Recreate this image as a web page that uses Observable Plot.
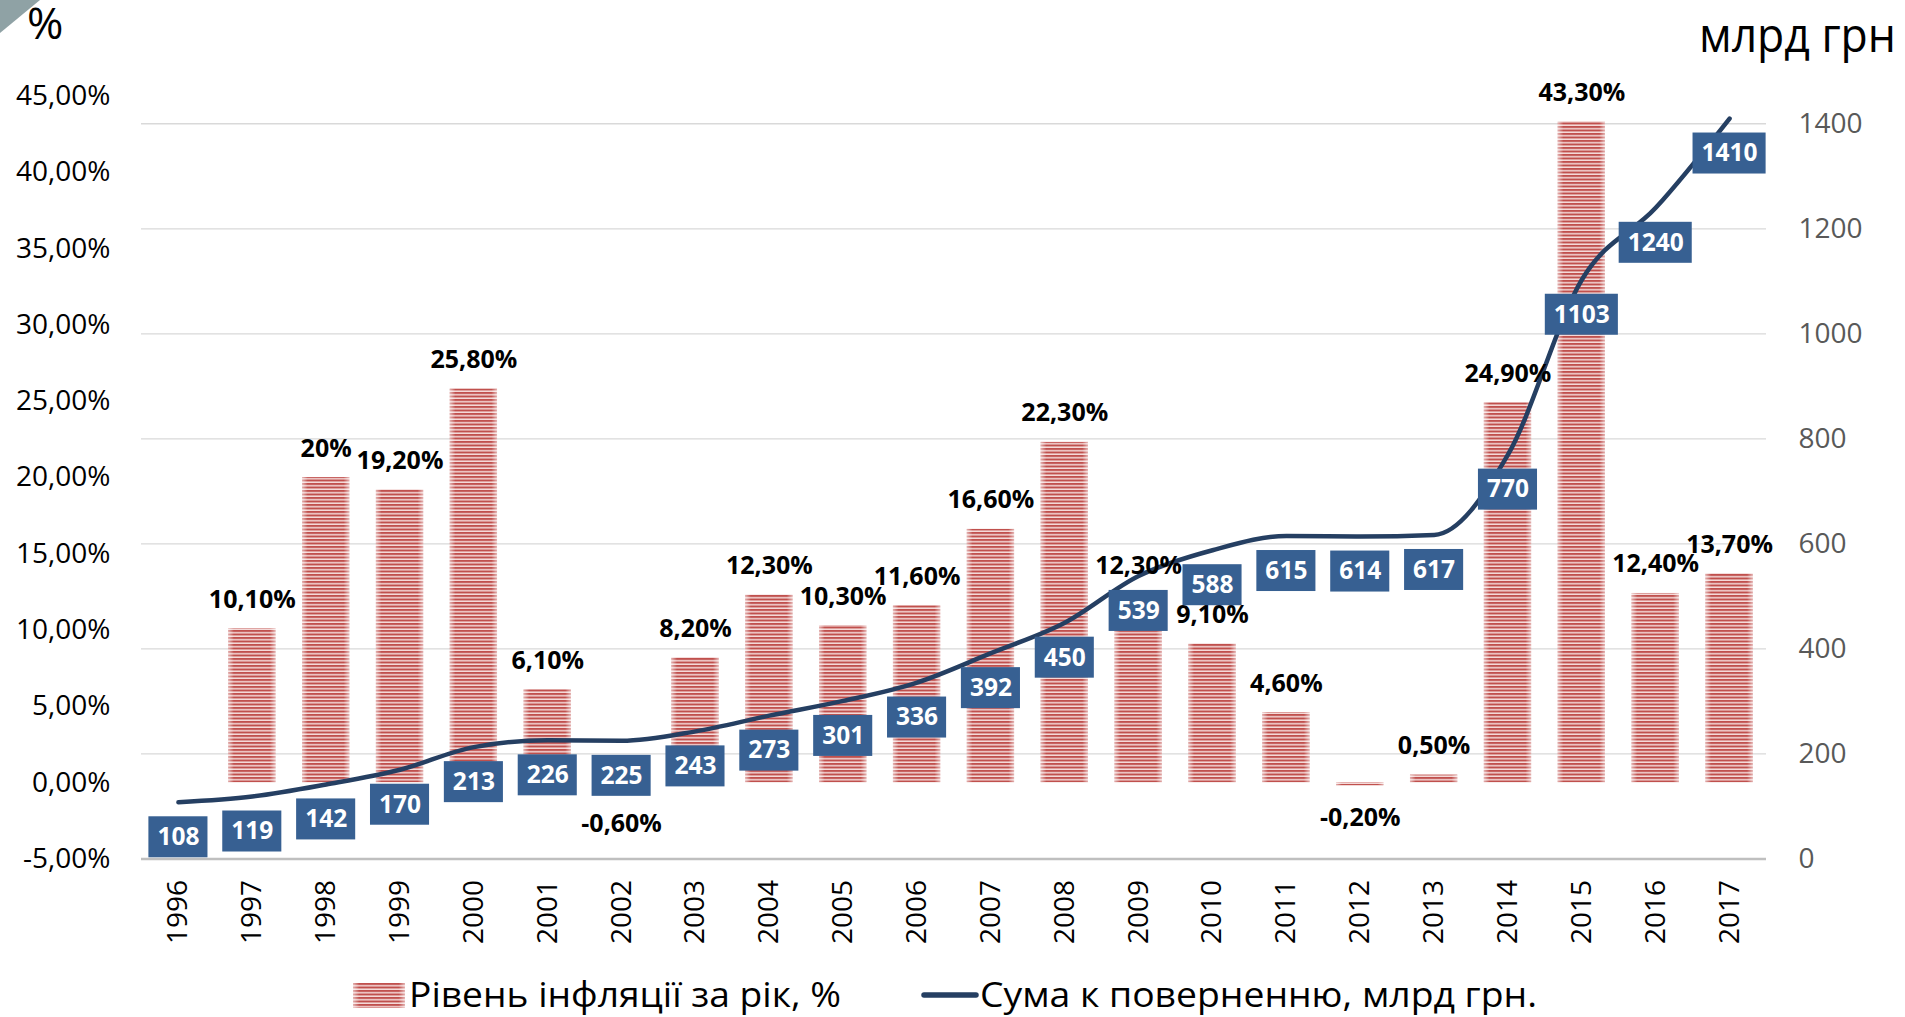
<!DOCTYPE html>
<html><head><meta charset="utf-8">
<script src="https://cdn.jsdelivr.net/npm/d3@7"></script>
<script src="https://cdn.jsdelivr.net/npm/@observablehq/plot@0.6"></script>
<style>
html,body{margin:0;padding:0;background:#fff;width:1905px;height:1017px;overflow:hidden;font-family:"Open Sans",sans-serif;}
#header{position:relative;height:70px;}
#legend{position:relative;height:45px;}
.fit{position:absolute;white-space:nowrap;line-height:1.2;transform-origin:0 0;color:#000;}
#chart svg{display:block;}
</style></head><body>
<div id="header">
  <svg width="45" height="36" style="position:absolute;left:0;top:0"><polygon points="0,0 40,0 0,33" fill="#8FA2A5"/></svg>
  <div class="fit" style="left:27px;top:0px;font-size:44px;line-height:1;">%</div>
  <div class="fit" data-w="197" style="left:1699px;top:5px;font-size:48px;">млрд грн</div>
</div>
<div id="chart"></div>
<div id="legend">
  <svg width="52" height="25" style="position:absolute;left:353px;top:11px">
    <defs>
      <pattern id="stripesL" patternUnits="userSpaceOnUse" width="10" height="3.5">
        <rect width="10" height="3.5" fill="#F5DCDB"/><rect width="10" height="2" fill="#C0504D"/>
      </pattern>
      <linearGradient id="edgefadeL"><stop offset="0" stop-color="#fff" stop-opacity="0.55"/><stop offset="0.12" stop-color="#fff" stop-opacity="0"/><stop offset="0.88" stop-color="#fff" stop-opacity="0"/><stop offset="1" stop-color="#fff" stop-opacity="0.55"/></linearGradient>
    </defs>
    <rect width="52" height="25" fill="url(#stripesL)"/><rect width="52" height="25" fill="url(#edgefadeL)"/>
  </svg>
  <div class="fit" data-w="432" style="left:409px;top:1.5px;font-size:34px;">Рівень інфляції за рік, %</div>
  <svg width="60" height="12" style="position:absolute;left:920px;top:17px">
    <line x1="4" y1="6" x2="56" y2="6" stroke="#253F62" stroke-width="5.5" stroke-linecap="round"/>
  </svg>
  <div class="fit" data-w="557" style="left:980px;top:1.5px;font-size:34px;">Сума к поверненню, млрд грн.</div>
</div>
<script>
// ---- data ----
const years = ["1996","1997","1998","1999","2000","2001","2002","2003","2004","2005","2006","2007","2008","2009","2010","2011","2012","2013","2014","2015","2016","2017"];
const inflation = [null, 10.1, 20, 19.2, 25.8, 6.1, -0.6, 8.2, 12.3, 10.3, 11.6, 16.6, 22.3, 12.3, 9.1, 4.6, -0.2, 0.5, 24.9, 43.3, 12.4, 13.7];
const repayment = [108, 119, 142, 170, 213, 226, 225, 243, 273, 301, 336, 392, 450, 539, 588, 615, 614, 617, 770, 1103, 1240, 1410];
const pctTicks = [-5, 0, 5, 10, 15, 20, 25, 30, 35, 40, 45];
const sumTicks = [0, 200, 400, 600, 800, 1000, 1200, 1400];

const data = years.map((year, i) => ({year, infl: inflation[i], sum: repayment[i]}));
const withInfl = data.filter(d => d.infl != null);
// secondary axis (0..1400) mapped onto the primary percent axis
const sumToPct = d3.scaleLinear().domain([0, 1400]).range([-5, 43.18]);
const fmtPct = v => (Number.isInteger(v) ? String(v) : v.toFixed(2).replace(".", ",")) + "%";
const fmtTick = v => v.toFixed(2).replace(".", ",") + "%";

const NAVY = "#253F62", BOX = "#376092";
const boxY = d => sumToPct(d.sum);

const chart = Plot.plot({
  width: 1905, height: 902,
  marginTop: 25.5, marginBottom: 113.5, marginLeft: 141, marginRight: 139,
  style: {fontFamily: "'Open Sans', sans-serif", background: "#fff", overflow: "visible"},
  x: {type: "band", domain: years, paddingInner: 0.36, paddingOuter: 0.18, round: false, label: null},
  y: {domain: [-5, 45], label: null},
  marks: [
    Plot.ruleY(sumTicks.filter(d => d > 0), {y: d => sumToPct(d), stroke: "#D9D9D9", strokeWidth: 1.3}),
    Plot.barY(withInfl, {x: "year", y: "infl", fill: "url(#stripes)"}),
    Plot.barY(withInfl, {x: "year", y: "infl", fill: "url(#edgefade)"}),
    Plot.ruleY([-5], {stroke: "#BFBFBF", strokeWidth: 2.5}),
    Plot.line(data, {x: "year", y: boxY, stroke: NAVY, strokeWidth: 4.5, curve: "monotone-x", strokeLinecap: "round", strokeLinejoin: "round"}),
    Plot.text(withInfl.filter(d => d.infl >= 0), {x: "year", y: "infl", text: d => fmtPct(d.infl), dy: -29, fontSize: 25, fontWeight: "bold", fill: "#000"}),
    Plot.text(withInfl.filter(d => d.infl < 0), {x: "year", y: "infl", text: d => fmtPct(d.infl), dy: 32, fontSize: 25, fontWeight: "bold", fill: "#000"}),
    Plot.barY(data.filter(d => d.sum < 1000), {x: "year", y1: boxY, y2: boxY, dy: 35, insetTop: -20.5, insetBottom: -20.5, insetLeft: -5.9, insetRight: -5.9, fill: BOX}),
    Plot.barY(data.filter(d => d.sum >= 1000), {x: "year", y1: boxY, y2: boxY, dy: 35, insetTop: -20.5, insetBottom: -20.5, insetLeft: -12.9, insetRight: -12.9, fill: BOX}),
    Plot.text(data, {x: "year", y: boxY, text: d => String(d.sum), dy: 35, fill: "#fff", fontSize: 24.5, fontWeight: "bold"}),
    Plot.axisY(pctTicks, {anchor: "left", tickSize: 0, tickPadding: 31, tickFormat: fmtTick, fontSize: 28, color: "#000", label: null}),
    Plot.text(sumTicks, {y: d => sumToPct(d), text: d => String(d), frameAnchor: "right", textAnchor: "start", dx: 32, fontSize: 28, fill: "#595959"}),
    Plot.axisX({anchor: "bottom", tickSize: 0, tickPadding: 21, tickRotate: -90, fontSize: 28, color: "#000", label: null})
  ]
});

const svg = d3.select(chart);
const defs = svg.insert("defs", ":first-child");
const pat = defs.append("pattern").attr("id", "stripes").attr("patternUnits", "userSpaceOnUse").attr("width", 10).attr("height", 3.5);
pat.append("rect").attr("width", 10).attr("height", 3.5).attr("fill", "#F5DCDB");
pat.append("rect").attr("width", 10).attr("height", 2).attr("fill", "#C0504D");
const grad = defs.append("linearGradient").attr("id", "edgefade");
[[0, 0.55], [0.12, 0], [0.88, 0], [1, 0.55]].forEach(([o, op]) =>
  grad.append("stop").attr("offset", o).attr("stop-color", "#fff").attr("stop-opacity", op));

document.getElementById("chart").appendChild(chart);

function fitTexts() {
  document.querySelectorAll(".fit[data-w]").forEach(el => {
    el.style.transform = "none";
    const w = el.getBoundingClientRect().width;
    el.style.transform = `scaleX(${(+el.dataset.w / w).toFixed(4)})`;
  });
}
fitTexts();
if (document.fonts && document.fonts.ready) document.fonts.ready.then(fitTexts);
</script>
</body></html>
